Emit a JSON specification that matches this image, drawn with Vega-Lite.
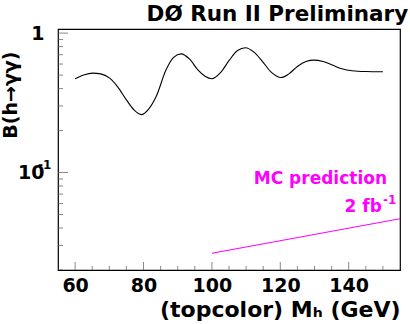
{
  "$schema": "https://vega.github.io/schema/vega-lite/v6.json",
  "autosize": "none",
  "padding": {"left": 58, "top": 29, "right": 10, "bottom": 54},
  "width": 342,
  "height": 241,
  "background": "white",
  "config": {
    "font": "DejaVu Sans",
    "view": {"stroke": "#000000", "strokeWidth": 1.2},
    "axis": {"grid": false, "domain": false, "ticks": false, "labelFont": "DejaVu Sans", "titleFont": "DejaVu Sans", "labelFontWeight": "bold", "titleFontWeight": "bold", "labelColor": "#000", "titleColor": "#000"}
  },
  "datasets": {
    "curve": [
      {"m": 60, "b": 0.47}, {"m": 62.5, "b": 0.50}, {"m": 65.2, "b": 0.516}, {"m": 67.5, "b": 0.51},
      {"m": 70.1, "b": 0.475}, {"m": 72.5, "b": 0.41}, {"m": 75, "b": 0.332}, {"m": 77.3, "b": 0.28},
      {"m": 79.4, "b": 0.26}, {"m": 81.5, "b": 0.285}, {"m": 83.7, "b": 0.351}, {"m": 86.6, "b": 0.545},
      {"m": 88.8, "b": 0.67}, {"m": 91, "b": 0.71}, {"m": 93.5, "b": 0.65}, {"m": 95.9, "b": 0.545},
      {"m": 98, "b": 0.49}, {"m": 100, "b": 0.47}, {"m": 102.5, "b": 0.52}, {"m": 105.1, "b": 0.64},
      {"m": 107.5, "b": 0.75}, {"m": 109.8, "b": 0.785}, {"m": 112.3, "b": 0.73}, {"m": 114.8, "b": 0.625},
      {"m": 117.5, "b": 0.52}, {"m": 120.2, "b": 0.48}, {"m": 122.5, "b": 0.51}, {"m": 125, "b": 0.576},
      {"m": 127.5, "b": 0.625}, {"m": 129.9, "b": 0.64}, {"m": 132.5, "b": 0.625}, {"m": 135.2, "b": 0.59},
      {"m": 138, "b": 0.555}, {"m": 141, "b": 0.537}, {"m": 145, "b": 0.53}, {"m": 150, "b": 0.528}
    ],
    "mc": [{"m": 100, "b": 0.0264}, {"m": 155, "b": 0.0466}],
    "notes": [
      {"m": 151.2, "b": 0.0901, "t": "MC prediction"},
      {"m": 149.7, "b": 0.0567, "t": "2 fb"}
    ],
    "sups": [
      {"m": 150.0, "b": 0.0637, "t": "-1"}
    ],
    "axsup": [
      {"m": 55, "b": 0.1, "t": "-1"}
    ],
    "head": [
      {"m": 157.4, "b": 1.227, "t": "DØ Run II Preliminary"}
    ],
    "xmajor": [{"m": 60}, {"m": 80}, {"m": 100}, {"m": 120}, {"m": 140}],
    "xminor": [{"m": 65}, {"m": 70}, {"m": 75}, {"m": 85}, {"m": 90}, {"m": 95}, {"m": 105}, {"m": 110}, {"m": 115}, {"m": 125}, {"m": 130}, {"m": 135}, {"m": 145}, {"m": 150}],
    "ymajor": [{"b": 0.1}, {"b": 1}],
    "yminor": [{"b": 0.02}, {"b": 0.03}, {"b": 0.04}, {"b": 0.05}, {"b": 0.06}, {"b": 0.07}, {"b": 0.08}, {"b": 0.09}, {"b": 0.2}, {"b": 0.3}, {"b": 0.4}, {"b": 0.5}, {"b": 0.6}, {"b": 0.7}, {"b": 0.8}, {"b": 0.9}]
  },
  "layer": [
    {
      "data": {"name": "curve"},
      "mark": {"type": "line", "color": "#000000", "strokeWidth": 1.1, "interpolate": "monotone", "clip": true},
      "encoding": {
        "x": {"field": "m", "type": "quantitative",
          "scale": {"domain": [55, 155], "nice": false, "zero": false},
          "axis": {
            "title": "(topcolor) Mₕ (GeV)", "titleFontSize": 22, "titleAnchor": "end", "titlePadding": 4,
            "values": [60, 80, 100, 120, 140],
            "labelFontSize": 19, "labelPadding": 6, "labelFlush": false, "labelOverlap": false
          }
        },
        "y": {"field": "b", "type": "quantitative",
          "scale": {"type": "log", "domain": [0.02, 1.07], "nice": false},
          "axis": {
            "title": "B(h→γγ)", "titleFontSize": 19, "titleAngle": -90, "titleAlign": "right", "titleBaseline": "top",
            "titleX": -57, "titleY": 22,
            "values": [0.1, 1],
            "labelExpr": "datum.value == 1 ? '1' : '10\u00a0'",
            "labelFontSize": 19, "labelPadding": 14, "labelOverlap": false
          }
        }
      }
    },
    {
      "data": {"name": "xmajor"},
      "mark": {"type": "tick", "orient": "vertical", "size": 16, "thickness": 1, "color": "#555555", "clip": true},
      "encoding": {"x": {"field": "m", "type": "quantitative"}, "y": {"datum": 0.02}}
    },
    {
      "data": {"name": "xminor"},
      "mark": {"type": "tick", "orient": "vertical", "size": 8, "thickness": 1, "color": "#555555", "clip": true},
      "encoding": {"x": {"field": "m", "type": "quantitative"}, "y": {"datum": 0.02}}
    },
    {
      "data": {"name": "ymajor"},
      "mark": {"type": "tick", "orient": "horizontal", "size": 20, "thickness": 1, "color": "#555555", "clip": true},
      "encoding": {"y": {"field": "b", "type": "quantitative"}, "x": {"datum": 55}}
    },
    {
      "data": {"name": "yminor"},
      "mark": {"type": "tick", "orient": "horizontal", "size": 10, "thickness": 1, "color": "#555555", "clip": true},
      "encoding": {"y": {"field": "b", "type": "quantitative"}, "x": {"datum": 55}}
    },
    {
      "data": {"name": "mc"},
      "mark": {"type": "line", "color": "#ff00ff", "strokeWidth": 1.1, "clip": true},
      "encoding": {
        "x": {"field": "m", "type": "quantitative"},
        "y": {"field": "b", "type": "quantitative"}
      }
    },
    {
      "data": {"name": "notes"},
      "mark": {"type": "text", "color": "#ff00ff", "fontSize": 17, "fontWeight": "bold", "font": "DejaVu Sans", "align": "right", "baseline": "middle"},
      "encoding": {
        "x": {"field": "m", "type": "quantitative"},
        "y": {"field": "b", "type": "quantitative"},
        "text": {"field": "t"}
      }
    },
    {
      "data": {"name": "sups"},
      "mark": {"type": "text", "color": "#ff00ff", "fontSize": 12, "fontWeight": "bold", "font": "DejaVu Sans", "align": "left", "baseline": "middle"},
      "encoding": {
        "x": {"field": "m", "type": "quantitative"},
        "y": {"field": "b", "type": "quantitative"},
        "text": {"field": "t"}
      }
    },
    {
      "data": {"name": "axsup"},
      "mark": {"type": "text", "color": "#000000", "fontSize": 12, "fontWeight": "bold", "font": "DejaVu Sans", "align": "left", "baseline": "middle", "dx": -20, "dy": -8, "clip": false},
      "encoding": {
        "x": {"field": "m", "type": "quantitative"},
        "y": {"field": "b", "type": "quantitative"},
        "text": {"field": "t"}
      }
    },
    {
      "data": {"name": "head"},
      "mark": {"type": "text", "color": "#000000", "fontSize": 21.5, "fontWeight": "bold", "font": "DejaVu Sans", "align": "right", "baseline": "alphabetic", "clip": false},
      "encoding": {
        "x": {"field": "m", "type": "quantitative"},
        "y": {"field": "b", "type": "quantitative"},
        "text": {"field": "t"}
      }
    }
  ]
}
